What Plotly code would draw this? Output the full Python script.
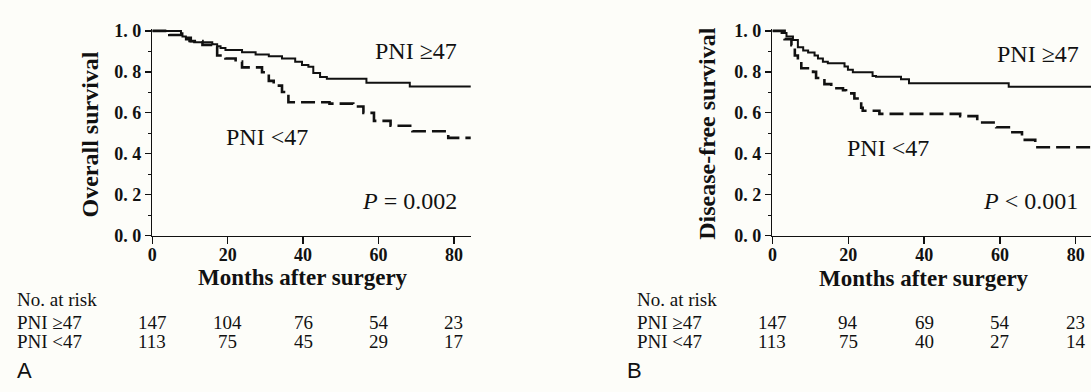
import plotly.graph_objects as go

# ---------------- data ----------------
# Panel A: overall survival (Kaplan-Meier step points)
os_high_t = [0, 7.6, 8.0, 8.9, 9.8, 11.1, 15.9, 17.2, 18.1, 19.4, 23.8, 27.4, 30.9, 34.4, 37.9, 39.7, 41.4, 42.7, 44.5, 46.3, 56.8, 68.3, 84.5]
os_high_s = [1.0, 0.989, 0.973, 0.958, 0.95, 0.945, 0.935, 0.925, 0.916, 0.907, 0.896, 0.885, 0.876, 0.865, 0.85, 0.834, 0.825, 0.794, 0.775, 0.766, 0.747, 0.728, 0.728]
os_low_t = [0, 4.5, 7.6, 10.2, 13.3, 15.9, 17.2, 19.4, 22.1, 23.8, 29.1, 30.9, 32.2, 34.4, 36.1, 47.0, 53.3, 56.0, 58.8, 63.2, 69.0, 78.5, 84.5]
os_low_s = [1.0, 0.98, 0.966, 0.95, 0.932, 0.92, 0.88, 0.865, 0.85, 0.822, 0.798, 0.756, 0.733, 0.702, 0.652, 0.645, 0.631, 0.60, 0.561, 0.537, 0.51, 0.478, 0.478]

# Panel B: disease-free survival
dfs_high_t = [0, 2.4, 3.7, 5.4, 6.7, 8.1, 9.4, 11.1, 12.0, 13.3, 14.6, 19.0, 19.9, 21.2, 26.4, 27.3, 33.9, 36.0, 62.3, 84]
dfs_high_s = [1.0, 0.99, 0.973, 0.955, 0.92, 0.904, 0.895, 0.88, 0.865, 0.85, 0.842, 0.826, 0.81, 0.798, 0.78, 0.776, 0.764, 0.745, 0.727, 0.727]
dfs_low_t = [0, 3.2, 5.0, 5.9, 6.7, 7.6, 10.7, 11.5, 13.7, 15.5, 18.6, 19.4, 21.6, 23.4, 23.8, 28.2, 49.5, 54.0, 59.0, 62.7, 65.8, 69.3, 84]
dfs_low_s = [1.0, 0.96, 0.93, 0.88, 0.85, 0.818, 0.80, 0.77, 0.74, 0.72, 0.71, 0.695, 0.67, 0.625, 0.61, 0.595, 0.584, 0.553, 0.53, 0.505, 0.468, 0.432, 0.432]

# Numbers at risk
risk_times = [0, 20, 40, 60, 80]
risk_A_high = [147, 104, 76, 54, 23]
risk_A_low = [113, 75, 45, 29, 17]
risk_B_high = [147, 94, 69, 54, 23]
risk_B_low = [113, 75, 40, 27, 14]

x_ticks = [0, 20, 40, 60, 80]
y_ticks = [0.0, 0.2, 0.4, 0.6, 0.8, 1.0]
y_ticktext = ["0. 0", "0. 2", "0. 4", "0. 6", "0. 8", "1. 0"]

group_high = "PNI \u226547"
group_low = "PNI <47"

# ---------------- layout helpers ----------------
W, H = 1091, 392
SERIF = "Liberation Serif, Times New Roman, serif"
INK = "#111111"
BG = "#fdfdf9"


def px(v):
    return v / W


def py(v):
    return 1 - v / H


fig = go.Figure()

solid = dict(color=INK, width=2)
dashed = dict(color=INK, width=2.6, dash="14px,6px")

fig.add_trace(go.Scatter(x=os_high_t, y=os_high_s, mode="lines", line=dict(shape="hv", **solid),
                         xaxis="x", yaxis="y", showlegend=False, name=group_high))
fig.add_trace(go.Scatter(x=os_low_t, y=os_low_s, mode="lines", line=dict(shape="hv", **dashed),
                         xaxis="x", yaxis="y", showlegend=False, name=group_low))
fig.add_trace(go.Scatter(x=dfs_high_t, y=dfs_high_s, mode="lines", line=dict(shape="hv", **solid),
                         xaxis="x2", yaxis="y2", showlegend=False, name=group_high))
fig.add_trace(go.Scatter(x=dfs_low_t, y=dfs_low_s, mode="lines", line=dict(shape="hv", **dashed),
                         xaxis="x2", yaxis="y2", showlegend=False, name=group_low))

ydom = [py(238.7), py(21.85)]

xcommon = dict(
    tickvals=x_ticks, ticks="outside", ticklen=7, tickwidth=1.3, tickcolor=INK,
    showline=True, linecolor=INK, linewidth=1.5, showgrid=False, zeroline=False,
    tickfont=dict(family=SERIF, size=18, color=INK, weight="bold"),
    ticklabelstandoff=-5,
    fixedrange=True,
)
ycommon = dict(
    range=[0, 1.01], tickvals=y_ticks, ticktext=y_ticktext, ticks="outside", ticklen=6,
    tickwidth=1.3, tickcolor=INK, showline=True, linecolor=INK, linewidth=1.5,
    showgrid=False, zeroline=False, domain=ydom,
    minor=dict(dtick=0.1, tick0=0, ticks="outside", ticklen=3, tickcolor=INK, tickwidth=1),
    tickfont=dict(family=SERIF, size=18, color=INK, weight="bold"),
    fixedrange=True,
)

fig.update_layout(
    width=W, height=H, autosize=False,
    margin=dict(l=0, r=0, t=0, b=0),
    paper_bgcolor=BG, plot_bgcolor=BG,
    xaxis=dict(domain=[px(148), px(468)], range=[0, 84.5], anchor="y", **xcommon),
    yaxis=dict(anchor="x", **ycommon),
    xaxis2=dict(domain=[px(771), px(1091)], range=[0, 84], anchor="y2", **xcommon),
    yaxis2=dict(anchor="x2", **ycommon),
)

ann = []


def txt(text, x, y, xref="paper", yref="paper", size=20, bold=False, xanchor="center",
        family=SERIF, angle=0):
    ann.append(dict(text=text, x=x, y=y, xref=xref, yref=yref, showarrow=False,
                    xanchor=xanchor, yanchor="middle", textangle=angle,
                    font=dict(family=family, size=size, color=INK,
                              weight="bold" if bold else "normal")))


# in-plot labels
txt(group_high, 70, 0.90, "x", "y", size=24)
txt(group_low, 30.3, 0.483, "x", "y", size=24)
txt("<i>P</i> = 0.002", 68.3, 0.171, "x", "y", size=24)
txt(group_high, 70.1, 0.888, "x2", "y2", size=24)
txt(group_low, 30.4, 0.427, "x2", "y2", size=24)
txt("<i>P</i> < 0.001", 68, 0.171, "x2", "y2", size=24)

# axis titles
txt("Overall survival", px(85), py(133), size=24, bold=True, angle=-90)
txt("Disease-free survival", px(705), py(131), size=24, bold=True, angle=-90)
txt("Months after surgery", 40, py(282), "x", "paper", size=23, bold=True)
txt("Months after surgery", 40, py(283), "x2", "paper", size=23, bold=True)

# risk tables
for left, xr, hi, lo in [(10, "x", risk_A_high, risk_A_low), (633, "x2", risk_B_high, risk_B_low)]:
    txt("No. at risk", px(left), py(306), size=19, xanchor="left")
    txt(group_high, px(left), py(330), size=19, xanchor="left")
    txt(group_low, px(left), py(350), size=19, xanchor="left")
    for t, a, b in zip(risk_times, hi, lo):
        txt(str(a), t, py(330), xr, "paper", size=19)
        txt(str(b), t, py(350), xr, "paper", size=19)

# panel letters
txt("A", px(10), py(380), size=22, xanchor="left", family="Liberation Sans, Arial, sans-serif")
txt("B", px(623), py(380), size=22, xanchor="left", family="Liberation Sans, Arial, sans-serif")

fig.update_layout(annotations=ann)
fig.write_html(
    "out.html",
    config={"displayModeBar": False, "staticPlot": True},
    post_script="document.body.style.margin='0';document.body.style.overflow='hidden';"
                "document.body.style.background='" + BG + "';",
)
